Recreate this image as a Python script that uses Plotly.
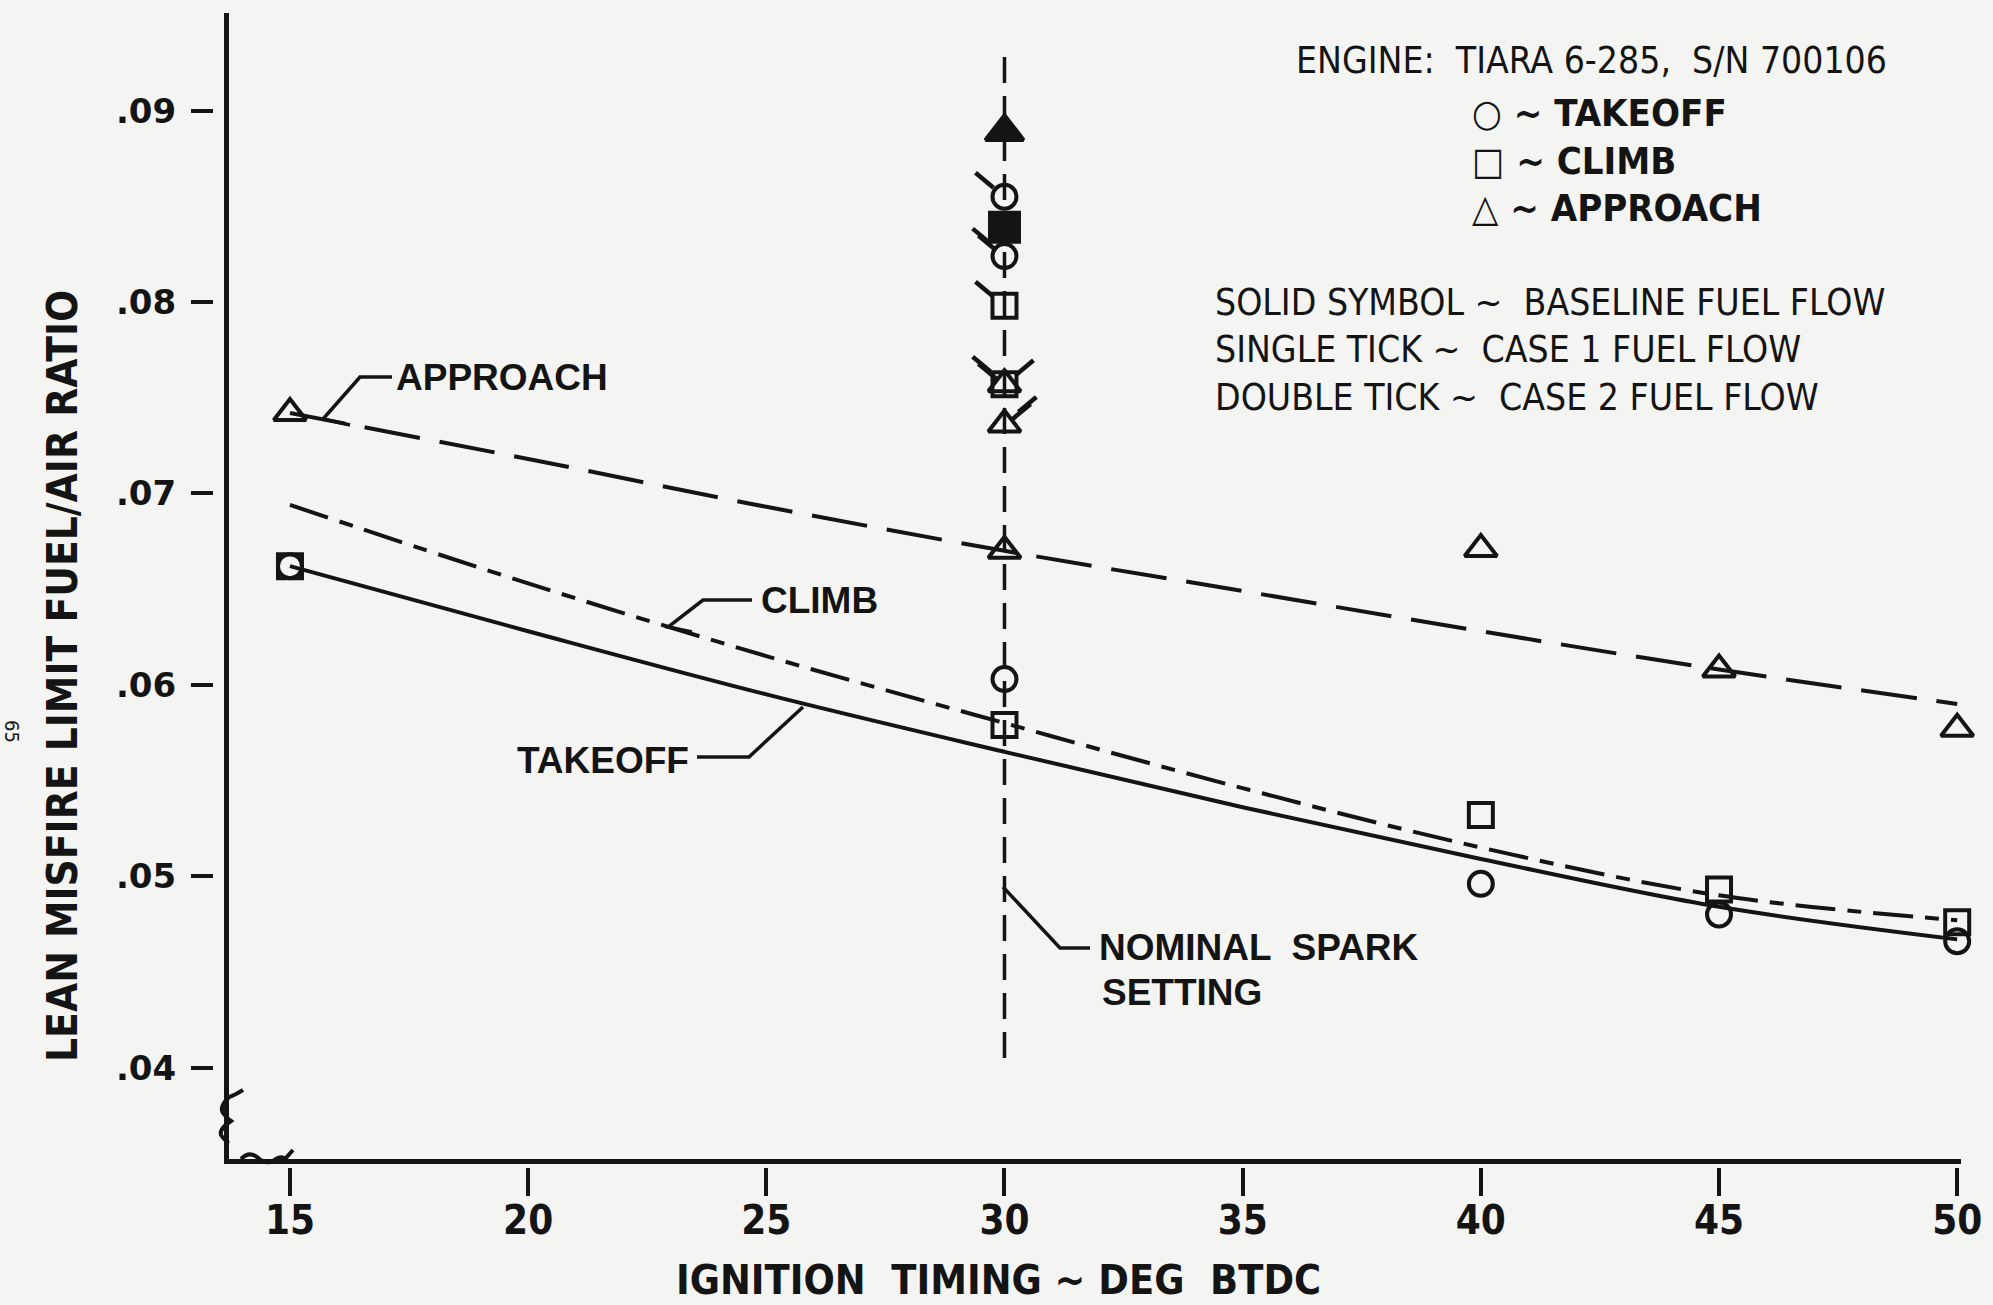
import plotly.graph_objects as go

# ---------------- data ----------------
x_ticks = [15, 20, 25, 30, 35, 40, 45, 50]
y_ticks = [0.04, 0.05, 0.06, 0.07, 0.08, 0.09]
y_tick_labels = [".04", ".05", ".06", ".07", ".08", ".09"]

curve_x = [15, 20, 25, 30, 35, 40, 45, 50]
takeoff_curve = [0.0662, 0.0628, 0.0595, 0.0565, 0.0536, 0.0509, 0.0484, 0.0467]
climb_curve = [0.0694, 0.0653, 0.0615, 0.0580, 0.0546, 0.0515, 0.0490, 0.0477]
approach_curve = [0.0742, 0.0718, 0.0693, 0.0670, 0.0649, 0.0628, 0.0608, 0.0590]

# open symbols (no tick)
open_x = [15, 30, 40, 45, 50]
takeoff_open = [0.0662, 0.0603, 0.0496, 0.0480, 0.0466]
climb_open = [0.0662, 0.0579, 0.0532, 0.0493, 0.0476]
approach_open = [0.0742, 0.0670, 0.0671, 0.0608, 0.0577]

# points at nominal spark setting (30 deg BTDC)
spark_x = 30
takeoff_case1 = [0.0855]
takeoff_case2 = [0.0824]
climb_base = [0.0839]
climb_case1 = [0.0798]
climb_case2 = [0.0757]
approach_base = [0.0889]
approach_case1 = [0.0757]
approach_case2 = [0.0736]

nominal_spark_y = [0.0928, 0.0405]

# ---------------- geometry helpers ----------------
W, H = 1993, 1305
XL_PX, XR_PX = 229, 1961
YB_PX, YT_PX = 1159, 13
XR = [13.72, 50.08]
YR = [0.035225, 0.0951]
ML, MR, MT, MB = 213, W - 1961, 13, H - 1167


def dx(px):
    return XR[0] + (px - XL_PX) * (XR[1] - XR[0]) / (XR_PX - XL_PX)


def dy(py):
    return YR[0] + (YB_PX - py) * (YR[1] - YR[0]) / (YB_PX - YT_PX)


def pxp(px):
    return (px - ML) / (W - ML - MR)


def pyp(py):
    return (H - MB - py) / (H - MB - MT)


INK = "#141414"
BG = "#f4f4f2"
BOLD = "Liberation Sans"
NARROW = "Liberation Sans Narrow, DejaVu Sans Condensed, Arial Narrow, sans-serif"

fig = go.Figure()

# curves
fig.add_trace(go.Scatter(x=curve_x, y=approach_curve, mode="lines", cliponaxis=False,
                         line=dict(color=INK, width=4, dash="56px,20px", shape="spline"),
                         hoverinfo="skip"))
fig.add_trace(go.Scatter(x=curve_x, y=climb_curve, mode="lines", cliponaxis=False,
                         line=dict(color=INK, width=4, dash="40px,12px,14px,12px", shape="spline"),
                         hoverinfo="skip"))
fig.add_trace(go.Scatter(x=curve_x, y=takeoff_curve, mode="lines", cliponaxis=False,
                         line=dict(color=INK, width=4, shape="spline"),
                         hoverinfo="skip"))
# nominal spark setting line
fig.add_trace(go.Scatter(x=[spark_x, spark_x], y=nominal_spark_y, mode="lines",
                         line=dict(color=INK, width=3.5, dash="26px,13px"),
                         hoverinfo="skip"))

sym = {"takeoff": "circle", "climb": "square", "approach": "triangle-up"}
msize = {"takeoff": 24, "climb": 24, "approach": 28}


def add_pts(xs, ys, series, filled):
    s = sym[series] + ("" if filled else "-open")
    fig.add_trace(go.Scatter(
        x=xs, y=ys, mode="markers", cliponaxis=False,
        marker=dict(symbol=s, size=msize[series] + (5 if filled else 0), color=INK,
                    line=dict(color=INK, width=4)),
        hoverinfo="skip"))


add_pts(open_x, takeoff_open, "takeoff", False)
add_pts(open_x, climb_open, "climb", False)
add_pts(open_x, approach_open, "approach", False)

spark_sets = [
    ("takeoff", takeoff_case1, 1), ("takeoff", takeoff_case2, 2),
    ("climb", climb_base, 0), ("climb", climb_case1, 1), ("climb", climb_case2, 2),
    ("approach", approach_base, 0), ("approach", approach_case1, 1), ("approach", approach_case2, 2),
]

shapes = []
for series, ys, nticks in spark_sets:
    add_pts([spark_x] * len(ys), ys, series, nticks == 0)
    if nticks == 0:
        continue
    side = 1 if series == "approach" else -1
    offs = [0.0] if nticks == 1 else [-4.5, 4.5]
    for yv in ys:
        for o in offs:
            ox, oy = 0.636 * o, 0.772 * o
            shapes.append(dict(
                type="line", xref="x", yref="y", xsizemode="pixel", ysizemode="pixel",
                xanchor=spark_x, yanchor=yv,
                x0=side * (11 + ox), y0=9 + oy,
                x1=side * (29 + ox), y1=24 + oy,
                line=dict(color=INK, width=4.5)))

# axis break squiggles (paper-referenced so they are not clipped)
corner_x, corner_y = pxp(XL_PX), pyp(YB_PX)
shapes.append(dict(type="path", xref="paper", yref="paper", xsizemode="pixel", ysizemode="pixel",
                   xanchor=corner_x, yanchor=corner_y,
                   path="M 14,69 Q 6,64 0,62 Q -10,52 -6,46 Q -1,40 2,38 Q -10,30 -8,24 Q -4,18 0,16",
                   line=dict(color=INK, width=4)))
shapes.append(dict(type="path", xref="paper", yref="paper", xsizemode="pixel", ysizemode="pixel",
                   xanchor=corner_x, yanchor=corner_y,
                   path="M 12,0 Q 20,8 28,2 Q 36,-6 44,-2 Q 52,4 56,0 L 64,9",
                   line=dict(color=INK, width=4)))


# leader lines (pixel geometry converted to data space)
def leader(points):
    p = "M " + " L ".join(f"{dx(a)},{dy(b)}" for a, b in points)
    shapes.append(dict(type="path", xref="x", yref="y", path=p,
                       line=dict(color=INK, width=3.5)))


leader([(392, 377), (360, 377), (323, 419), (350, 425)])
leader([(752, 600), (703, 600), (668, 627), (692, 632)])
leader([(697, 757), (749, 757), (803, 707)])
leader([(1003, 887), (1060, 948), (1090, 948)])

annotations = []


def label(text, px, py, size, family=BOLD, weight="bold", anchor="left"):
    annotations.append(dict(x=dx(px), y=dy(py), xref="x", yref="y", text=text,
                            showarrow=False, xanchor=anchor, yanchor="middle",
                            font=dict(family=family, size=size, color=INK, weight=weight)))


label("APPROACH", 394, 377, 37)
label("CLIMB", 759, 600, 37)
label("TAKEOFF", 515, 760, 37)
label("NOMINAL  SPARK", 1097, 947, 37)
label("SETTING", 1100, 992, 37)

label("ENGINE:  TIARA 6-285,  S/N 700106", 1294, 60, 37, family=NARROW, weight="normal")
label("○ ~ TAKEOFF", 1470, 113, 38, family=NARROW)
label("□ ~ CLIMB", 1470, 161, 38, family=NARROW)
label("△ ~ APPROACH", 1470, 208, 38, family=NARROW)
label("SOLID SYMBOL ~  BASELINE FUEL FLOW", 1213, 302, 37, family=NARROW, weight="normal")
label("SINGLE TICK ~  CASE 1 FUEL FLOW", 1213, 349, 37, family=NARROW, weight="normal")
label("DOUBLE TICK ~  CASE 2 FUEL FLOW", 1213, 397, 37, family=NARROW, weight="normal")

# axis titles (positions given in page pixels, converted to paper fractions)
paper_notes = [
    dict(px=62, py=676, text="LEAN MISFIRE LIMIT FUEL/AIR RATIO", textangle=-90,
         font=dict(family=NARROW, size=42, color=INK, weight="bold")),
    dict(px=12, py=731, text="65", textangle=90,
         font=dict(family=NARROW, size=20, color=INK)),
    dict(px=998, py=1280, text="IGNITION  TIMING ~ DEG  BTDC", textangle=0,
         font=dict(family=NARROW, size=41, color=INK, weight="bold")),
]
for n in paper_notes:
    annotations.append(dict(
        x=pxp(n["px"]), y=pyp(n["py"]),
        xref="paper", yref="paper", text=n["text"], textangle=n["textangle"],
        showarrow=False, xanchor="center", yanchor="middle", font=n["font"]))

xdom = [pxp(XL_PX), 1]
ydom = [pyp(YB_PX), 1]

# invisible carrier trace so the offset tick axes are drawn
fig.add_trace(go.Scatter(x=[XR[0]], y=[YR[0]], xaxis="x2", yaxis="y2", mode="markers",
                         marker=dict(opacity=0, size=1), hoverinfo="skip"))

fig.update_layout(
    width=W, height=H,
    margin=dict(l=ML, r=MR, t=MT, b=MB),
    paper_bgcolor=BG, plot_bgcolor=BG,
    showlegend=False,
    shapes=shapes,
    annotations=annotations,
    xaxis=dict(range=XR, domain=xdom, anchor="y", showline=True, linewidth=5, linecolor=INK,
               ticks="", showticklabels=False, showgrid=False, zeroline=False),
    xaxis2=dict(range=XR, domain=xdom, overlaying="x", anchor="free", position=0,
                tickvals=x_ticks, ticks="outside", ticklen=28, tickwidth=4, tickcolor=INK,
                ticklabelstandoff=-10,
                showline=False, showgrid=False, zeroline=False,
                tickfont=dict(family="DejaVu Sans Condensed, DejaVu Sans", size=40, color=INK, weight="bold")),
    yaxis=dict(range=YR, domain=ydom, anchor="x", showline=True, linewidth=5, linecolor=INK,
               ticks="", showticklabels=False, showgrid=False, zeroline=False),
    yaxis2=dict(range=YR, domain=ydom, overlaying="y", anchor="free", position=0, side="left",
                tickvals=y_ticks, ticktext=y_tick_labels, ticks="outside", ticklen=22,
                tickwidth=4, tickcolor=INK, ticklabelstandoff=8,
                showline=False, showgrid=False, zeroline=False,
                tickfont=dict(family="DejaVu Sans", size=34, color=INK, weight="bold")),
)

fig.write_html("out.html")
